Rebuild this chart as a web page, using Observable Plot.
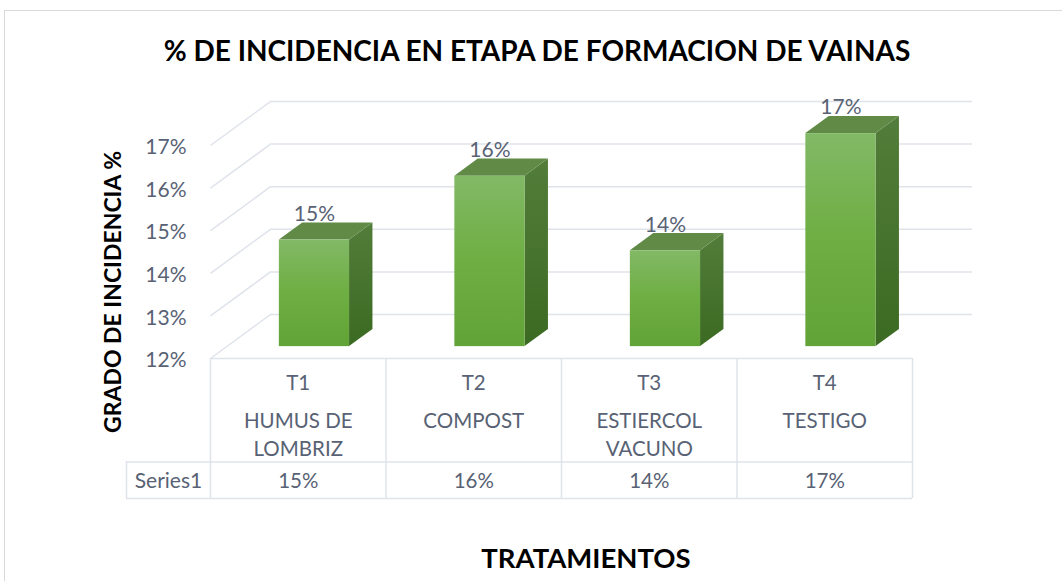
<!DOCTYPE html>
<html>
<head>
<meta charset="utf-8">
<script src="https://cdn.jsdelivr.net/npm/d3@7"></script>
<script src="https://cdn.jsdelivr.net/npm/@observablehq/plot@0.6"></script>
<style>
  html, body { margin: 0; padding: 0; background: #fff; overflow: hidden; }
  #wrap { position: relative; width: 1062px; height: 581px; overflow: hidden; font-family: Lato, "Open Sans", sans-serif; }
  #frame { position: absolute; left: 4px; top: 10px; width: 1120px; height: 640px; border: 1.5px solid #d9d9d9; box-sizing: border-box; }
  #title { position: absolute; left: 0; top: 34px; width: 1074px; text-align: center; font-weight: 700; font-size: 28px; line-height: 32px; color: #000; }
  #ytitle { position: absolute; left: 112px; top: 292px; transform: translate(-50%, -50%) rotate(-90deg); white-space: nowrap; font-weight: 700; font-size: 23px; line-height: 26px; color: #000; }
  #xtitle { position: absolute; left: 586px; top: 558px; transform: translate(-50%, -50%); white-space: nowrap; font-weight: 700; font-size: 27.5px; line-height: 30px; color: #000; }
  #chart { position: absolute; left: 0; top: 80px; }
</style>
</head>
<body>
<div id="wrap">
  <div id="frame"></div>
  <div id="title">% DE INCIDENCIA EN ETAPA DE FORMACION DE VAINAS</div>
  <div id="ytitle">GRADO DE INCIDENCIA %</div>
  <div id="chart"></div>
  <div id="xtitle">TRATAMIENTOS</div>
</div>
<script>
// ---- data ----
const categories = ["T1", "T2", "T3", "T4"];
const treatmentLine1 = ["HUMUS DE", "COMPOST", "ESTIERCOL", "TESTIGO"];
const treatmentLine2 = ["LOMBRIZ", "", "VACUNO", ""];
const seriesName = "Series1";
const values = [0.145, 0.160, 0.1425, 0.170];
const valueLabels = ["15%", "16%", "14%", "17%"];
const yTicks = [0.12, 0.13, 0.14, 0.15, 0.16, 0.17];
const yTickLabels = ["12%", "13%", "14%", "15%", "16%", "17%"];

// ---- layout constants ----
const W = 1062, H = 430;
const xRange = [210, 912];          // front plane, category bands -0.5..3.5
const yRange = [278, 65];           // front plane, 12%..17%
const PX_X = (xRange[1] - xRange[0]) / 4;
const PX_Y = (yRange[0] - yRange[1]) / 0.05;
const DX = 60 / PX_X;               // full depth of the 3D box, data units
const DY = 44 / PX_Y;
const D0 = 0.27, D1 = 0.66;         // bar front/back depth fraction
const HALF = 0.2;                   // half bar width (band units)
const BASE = 0.12;
const SERIES_W = 84 / PX_X;         // width of "Series1" column
const ROW1 = 103.5, ROW2 = 140;     // table row bottoms, px below floor front
const textColor = "#586274";
const gridColor = "#dfe3ea";

const bars = categories.map((c, i) => ({c, i, v: values[i], label: valueLabels[i]}));
const sidePts = bars.flatMap(d => [
  {i: d.i, x: d.i + HALF + D0 * DX, y1: BASE + D0 * DY, y2: d.v + D0 * DY},
  {i: d.i, x: d.i + HALF + D1 * DX, y1: BASE + D1 * DY, y2: d.v + D1 * DY}
]);
const topPts = bars.flatMap(d => [
  {i: d.i, y: d.v + D0 * DY, x1: d.i - HALF + D0 * DX, x2: d.i + HALF + D0 * DX},
  {i: d.i, y: d.v + D1 * DY, x1: d.i - HALF + D1 * DX, x2: d.i + HALF + D1 * DX}
]);
const cols = [-0.5, 0.5, 1.5, 2.5, 3.5];

const fontFamily = "Lato, 'Open Sans', sans-serif";

const svg = Plot.plot({
  width: W,
  height: H,
  marginTop: 0, marginBottom: 0, marginLeft: 0, marginRight: 0,
  x: {type: "linear", domain: [-0.5, 3.5], range: xRange, axis: null},
  y: {type: "linear", domain: [0.12, 0.17], range: yRange, axis: null},
  style: {fontFamily, background: "transparent"},
  marks: [
    // back wall gridlines
    Plot.ruleY(yTicks, {y: d => d + DY, x1: () => -0.5 + DX, x2: () => 3.5 + DX, stroke: gridColor, strokeWidth: 1.5}),
    // side wall diagonals
    Plot.link(yTicks, {x1: () => -0.5, y1: d => d, x2: () => -0.5 + DX, y2: d => d + DY, stroke: gridColor, strokeWidth: 1.5}),
    // data table grid
    Plot.ruleY([BASE], {x1: () => -0.5, x2: () => 3.5, stroke: gridColor, strokeWidth: 1.5}),
    Plot.ruleY([BASE], {x1: () => -0.5 - SERIES_W, x2: () => 3.5, dy: ROW1, stroke: gridColor, strokeWidth: 1.5}),
    Plot.ruleY([BASE], {x1: () => -0.5 - SERIES_W, x2: () => 3.5, dy: ROW2, stroke: gridColor, strokeWidth: 1.5}),
    Plot.ruleX(cols, {x: d => d, y1: () => BASE, y2: () => BASE - ROW2 / PX_Y, stroke: gridColor, strokeWidth: 1.5}),
    Plot.ruleX([-0.5 - SERIES_W], {x: d => d, y1: () => BASE - ROW1 / PX_Y, y2: () => BASE - ROW2 / PX_Y, stroke: gridColor, strokeWidth: 1.5}),
    // bars: side, top, front
    Plot.areaY(sidePts, {x: "x", y1: "y1", y2: "y2", z: "i", fill: "url(#gSide)"}),
    Plot.areaX(topPts, {y: "y", x1: "x1", x2: "x2", z: "i", fill: "#618a47"}),
    Plot.rect(bars, {x1: d => d.i - HALF + D0 * DX, x2: d => d.i + HALF + D0 * DX, y1: () => BASE + D0 * DY, y2: d => d.v + D0 * DY, fill: "url(#gFront)"}),
    // data labels
    Plot.text(bars, {x: d => d.i + D0 * DX, y: d => d.v + D0 * DY, dy: -26, text: "label", fill: textColor, fontSize: 21}),
    // y tick labels
    Plot.text(yTicks, {x: () => -0.5, y: d => d, dx: -24, dy: 2, textAnchor: "end", text: (d, i) => yTickLabels[i], fill: textColor, fontSize: 21}),
    // table texts
    Plot.text(bars, {x: d => d.i, y: () => BASE, dy: 25, text: "c", fill: textColor, fontSize: 20.5}),
    Plot.text(bars, {x: d => d.i, y: () => BASE, dy: 63, text: (d) => treatmentLine1[d.i], fill: textColor, fontSize: 20.5}),
    Plot.text(bars, {x: d => d.i, y: () => BASE, dy: 91, text: (d) => treatmentLine2[d.i], fill: textColor, fontSize: 20.5}),
    Plot.text(bars, {x: d => d.i, y: () => BASE, dy: 123, text: "label", fill: textColor, fontSize: 20.5}),
    Plot.text([seriesName], {x: () => -0.5 - SERIES_W / 2, y: () => BASE, dy: 123, text: d => d, fill: textColor, fontSize: 21})
  ]
});

// gradients for the 3D faces
const defs = d3.select(svg).insert("defs", ":first-child");
const gF = defs.append("linearGradient").attr("id", "gFront").attr("x1", 0).attr("y1", 0).attr("x2", 0).attr("y2", 1);
gF.append("stop").attr("offset", "0%").attr("stop-color", "#82b966");
gF.append("stop").attr("offset", "50%").attr("stop-color", "#6eae42");
gF.append("stop").attr("offset", "100%").attr("stop-color", "#62a337");
const gS = defs.append("linearGradient").attr("id", "gSide").attr("x1", 0).attr("y1", 0).attr("x2", 0).attr("y2", 1);
gS.append("stop").attr("offset", "0%").attr("stop-color", "#527d3a");
gS.append("stop").attr("offset", "100%").attr("stop-color", "#3b6a22");

document.getElementById("chart").appendChild(svg);
</script>
</body>
</html>
